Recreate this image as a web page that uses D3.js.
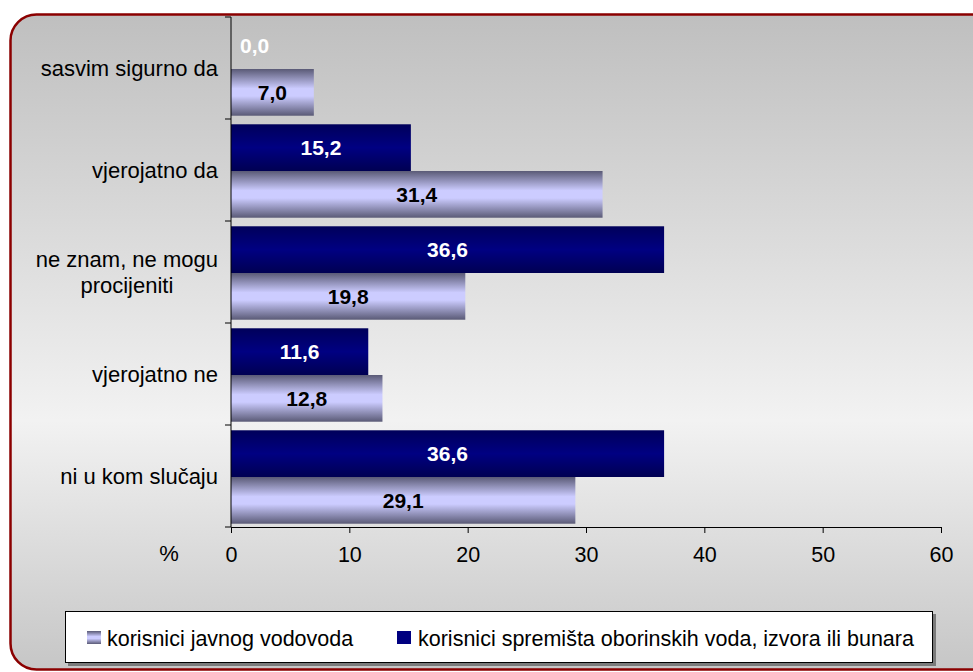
<!DOCTYPE html>
<html><head><meta charset="utf-8">
<script src="https://cdn.jsdelivr.net/npm/d3@7"></script>
<style>body{margin:0;background:#fff}svg{display:block;font-family:"Liberation Sans",Arial,sans-serif}</style>
</head><body><svg id="c" width="973" height="672"></svg>
<script>
const categories = ["sasvim sigurno da","vjerojatno da","ne znam, ne mogu\nprocijeniti","vjerojatno ne","ni u kom slučaju"];
const seriesNames = ["korisnici javnog vodovoda","korisnici spremišta oborinskih voda, izvora ili bunara"];
const javni = [7.0, 31.4, 19.8, 12.8, 29.1];
const spremista = [0.0, 15.2, 36.6, 11.6, 36.6];
const xTicks = [0,10,20,30,40,50,60];

const svg = d3.select("#c");
const defs = svg.append("defs");
const bg = defs.append("linearGradient").attr("id","bg").attr("x1",0).attr("y1",0).attr("x2",0).attr("y2",1);
[[0,"#bfbfbf"],[0.62,"#f2f2f2"],[1,"#c6c6c6"]].forEach(s=>bg.append("stop").attr("offset",s[0]).attr("stop-color",s[1]));
const lg = defs.append("linearGradient").attr("id","lightBar").attr("x1",0).attr("y1",0).attr("x2",0).attr("y2",1);
[[0,"#5a5a76"],[0.42,"#ccccff"],[0.58,"#ccccff"],[1,"#5a5a76"]].forEach(s=>lg.append("stop").attr("offset",s[0]).attr("stop-color",s[1]));
const dg = defs.append("linearGradient").attr("id","darkBar").attr("x1",0).attr("y1",0).attr("x2",0).attr("y2",1);
[[0,"#00005a"],[0.5,"#000082"],[1,"#000052"]].forEach(s=>dg.append("stop").attr("offset",s[0]).attr("stop-color",s[1]));

svg.append("rect").attr("x",10.5).attr("y",14.5).attr("width",990).attr("height",655)
  .attr("rx",26).attr("fill","url(#bg)").attr("stroke","#8b0000").attr("stroke-width",2.5);

const x0 = 231, x1 = 941, yTop = 17, yBot = 527;
const x = d3.scaleLinear().domain([0,60]).range([x0,x1]);
const y = d3.scaleBand().domain(d3.range(categories.length)).range([yTop,yBot]);
const bw = y.bandwidth();
const barH = bw*0.458;
const pad = (bw - 2*barH)/2;

const g = svg.append("g");
categories.forEach((c,i)=>{
  const top = y(i)+pad+1;
  g.append("rect").attr("x",x(0)).attr("y",top).attr("width",x(spremista[i])-x(0)).attr("height",barH).attr("fill","url(#darkBar)");
  g.append("rect").attr("x",x(0)).attr("y",top+barH).attr("width",x(javni[i])-x(0)).attr("height",barH).attr("fill","url(#lightBar)");
  const fmt = v=>v.toFixed(1).replace(".",",");
  const dtx = spremista[i]===0 ? x(0)+9 : (x(0)+x(spremista[i]))/2;
  g.append("text").attr("x",dtx).attr("y",top+barH/2).attr("dy","0.36em")
    .attr("text-anchor",spremista[i]===0?"start":"middle").attr("font-weight","bold").attr("font-size",21).attr("fill","#fff").text(fmt(spremista[i]));
  g.append("text").attr("x",(x(0)+x(javni[i]))/2).attr("y",top+barH*1.5).attr("dy","0.36em")
    .attr("text-anchor","middle").attr("font-weight","bold").attr("font-size",21).attr("fill","#000").text(fmt(javni[i]));
});

const xa = svg.append("g").attr("transform",`translate(0,${yBot})`)
  .call(d3.axisBottom(x).tickValues(xTicks).tickSize(6).tickSizeOuter(6).tickPadding(14).tickFormat(d=>d));
xa.selectAll("text").attr("font-size",21.5).attr("font-family","Liberation Sans, Arial, sans-serif").attr("fill","#000");
xa.selectAll("line,path").attr("stroke","#000");
const ya = svg.append("g").attr("transform",`translate(${x0},0)`);
ya.append("line").attr("x1",0).attr("x2",0).attr("y1",yTop).attr("y2",yBot).attr("stroke","#000");
d3.range(categories.length+1).forEach(i=>{
  const yy = yTop + i*y.step();
  ya.append("line").attr("x1",-6).attr("x2",0).attr("y1",yy).attr("y2",yy).attr("stroke","#000");
});
categories.forEach((c,i)=>{
  const lines = c.split("\n");
  const cy = y(i)+bw/2;
  const t = svg.append("text").attr("font-size",22).attr("fill","#000");
  lines.forEach((l,k)=>{
    t.append("tspan").attr("x",0).attr("y",cy + (k-(lines.length-1)/2)*26).attr("dy","0.36em").text(l);
  });
  const widths = t.selectAll("tspan").nodes().map(n=>n.getComputedTextLength());
  const mw = d3.max(widths);
  const cx = 218 - mw/2;
  t.attr("text-anchor","middle").selectAll("tspan").attr("x",cx);
});
svg.append("text").attr("x",169).attr("y",553).attr("dy","0.36em").attr("text-anchor","middle").attr("font-size",22).text("%");

const L = svg.append("g");
L.append("rect").attr("x",68).attr("y",614).attr("width",868).attr("height",52).attr("fill","#7a7a7a");
L.append("rect").attr("x",65.5).attr("y",611.5).attr("width",867).attr("height",51).attr("fill","#fff").attr("stroke","#000");
const legItems = [{name:seriesNames[0],fill:"url(#lightBar)",sx:87,tx:107},{name:seriesNames[1],fill:"#000080",sx:397,tx:418}];
legItems.forEach(d=>{
  L.append("rect").attr("x",d.sx).attr("y",631).attr("width",14).attr("height",13).attr("fill",d.fill);
  L.append("text").attr("x",d.tx).attr("y",638).attr("dy","0.36em").attr("font-size",21.5).text(d.name);
});
</script></body></html>
